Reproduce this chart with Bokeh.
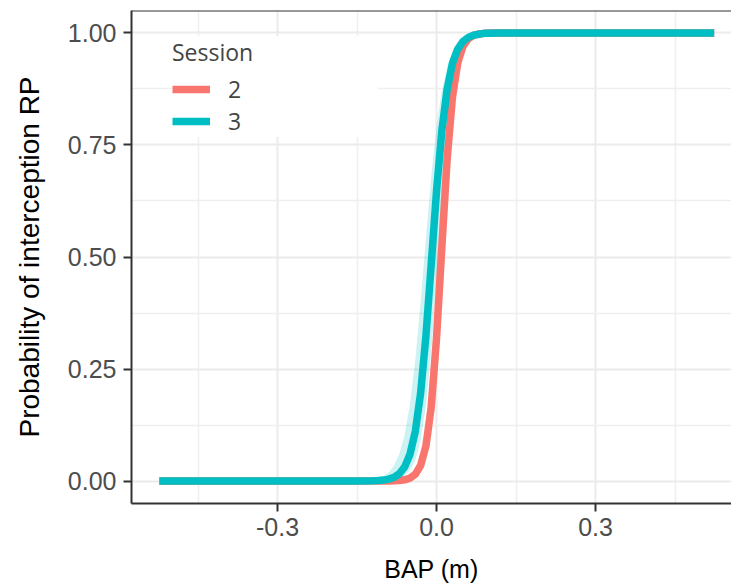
from bokeh.plotting import figure
from bokeh.models import (FixedTicker, NumeralTickFormatter, Legend, LegendItem,
                          Range1d, Span, ColumnDataSource)
from bokeh.embed import file_html
from bokeh.resources import INLINE

# BAP values (m) at which curves were read
bap = [-0.523, -0.20, -0.15, -0.12, -0.11, -0.10, -0.09, -0.08, -0.07, -0.06,
       -0.05, -0.04, -0.03, -0.02, -0.01, 0.00, 0.01, 0.02, 0.03, 0.04,
       0.05, 0.06, 0.07, 0.08, 0.09, 0.10, 0.12, 0.15, 0.20, 0.524]

# Session 2 (fit and confidence band)
s2_fit = [0, 0, 0, 0, 0.0001, 0.0001, 0.0002, 0.0005, 0.0012, 0.0028,
          0.0066, 0.0152, 0.0349, 0.078, 0.165, 0.318, 0.521, 0.718, 0.856, 0.933,
          0.970, 0.987, 0.9944, 0.9976, 0.999, 0.9996, 1.0, 1.0, 1.0, 1.0]
s2_hi = [0, 0, 0, 0, 0.0001, 0.0002, 0.0004, 0.0009, 0.0022, 0.0051,
         0.0119, 0.0274, 0.0618, 0.134, 0.265, 0.458, 0.664, 0.822, 0.915, 0.962,
         0.983, 0.993, 0.997, 0.9987, 0.9995, 0.9998, 1.0, 1.0, 1.0, 1.0]
s2_lo = [0, 0, 0, 0, 0, 0.0001, 0.0001, 0.0003, 0.0007, 0.0016,
         0.0037, 0.0085, 0.0196, 0.0448, 0.099, 0.204, 0.375, 0.584, 0.767, 0.885,
         0.947, 0.977, 0.990, 0.9957, 0.9981, 0.9992, 0.9999, 1.0, 1.0, 1.0]

# Session 3 (fit and confidence band)
s3_fit = [0, 0, 0.0001, 0.0006, 0.0011, 0.0022, 0.0044, 0.0085, 0.0165, 0.0316,
          0.060, 0.111, 0.196, 0.323, 0.483, 0.646, 0.781, 0.874, 0.932, 0.964,
          0.981, 0.990, 0.995, 0.997, 0.999, 0.9993, 0.9998, 1.0, 1.0, 1.0]
s3_hi = [0, 0, 0.0006, 0.0036, 0.0064, 0.0113, 0.0200, 0.0352, 0.0612, 0.104,
         0.172, 0.271, 0.399, 0.542, 0.679, 0.791, 0.871, 0.923, 0.956, 0.975,
         0.986, 0.992, 0.9955, 0.9975, 0.9986, 0.9992, 0.9998, 1.0, 1.0, 1.0]
s3_lo = [0, 0, 0, 0.0002, 0.0004, 0.0007, 0.0015, 0.0030, 0.0060, 0.0120,
         0.0239, 0.0470, 0.0903, 0.167, 0.287, 0.448, 0.620, 0.767, 0.869, 0.930,
         0.964, 0.982, 0.991, 0.9955, 0.9977, 0.9989, 0.9997, 1.0, 1.0, 1.0]

sessions = ["2", "3"]
colors = ["#F8766D", "#00BFC4"]

x_ticks = [-0.3, 0.0, 0.3]
x_minor = [-0.45, -0.15, 0.15, 0.45]
y_ticks = [0.0, 0.25, 0.5, 0.75, 1.0]
y_minor = [0.125, 0.375, 0.625, 0.875]

x_title = "BAP (m)"
y_title = "Probability of interception RP"

SANS = "Liberation Sans"

p = figure(width=731, height=585, output_backend="svg", toolbar_location=None,
           x_range=Range1d(-0.5755, 0.5566), y_range=Range1d(-0.05, 1.05),
           min_border_left=131, min_border_right=0, min_border_top=10,
           min_border_bottom=82)
p.outline_line_color = None
p.background_fill_color = "white"
p.border_fill_color = "white"

src = ColumnDataSource(dict(x=bap, s2f=s2_fit, s2h=s2_hi, s2l=s2_lo,
                            s3f=s3_fit, s3h=s3_hi, s3l=s3_lo))

p.varea(x="x", y1="s2l", y2="s2h", source=src, fill_color=colors[0], fill_alpha=0.14)
p.varea(x="x", y1="s3l", y2="s3h", source=src, fill_color=colors[1], fill_alpha=0.2)
r2 = p.line(x="x", y="s2f", source=src, line_color=colors[0], line_width=7.5,
            line_join="round")
r3 = p.line(x="x", y="s3f", source=src, line_color=colors[1], line_width=7.5,
            line_join="round")

# grid
p.xaxis.ticker = FixedTicker(ticks=x_ticks, minor_ticks=x_minor)
p.yaxis.ticker = FixedTicker(ticks=y_ticks, minor_ticks=y_minor)
p.xaxis.formatter = NumeralTickFormatter(format="0.0")
p.yaxis.formatter = NumeralTickFormatter(format="0.00")
for g in (p.xgrid, p.ygrid):
    g.grid_line_color = "#EBEBEB"
    g.grid_line_width = 2
    g.minor_grid_line_color = "#EFEFEF"
    g.minor_grid_line_width = 1.5

for ax in (p.xaxis, p.yaxis):
    ax.axis_line_color = "#333333"
    ax.axis_line_width = 2
    ax.major_tick_line_color = "#333333"
    ax.major_tick_line_width = 2
    ax.major_tick_out = 8
    ax.major_tick_in = 0
    ax.minor_tick_line_color = None
    ax.major_label_text_font = SANS
    ax.major_label_text_font_size = "25px"
    ax.major_label_text_color = "#4D4D4D"
    ax.axis_label_text_font_style = "normal"
    ax.axis_label_text_color = "black"

p.xaxis.major_label_standoff = 6
p.yaxis.major_label_standoff = 7
p.xaxis.axis_label = x_title
p.xaxis.axis_label_text_font = SANS
p.xaxis.axis_label_text_font_size = "25px"
p.xaxis.axis_label_standoff = 16
p.yaxis.axis_label = y_title
p.yaxis.axis_label_text_font = SANS
p.yaxis.axis_label_text_font_size = "28px"
p.yaxis.axis_label_standoff = 20

p.add_layout(Span(location=1.05, dimension="width", line_color="#333333", line_width=2))

legend = Legend(items=[LegendItem(label=sessions[0], renderers=[r2]),
                       LegendItem(label=sessions[1], renderers=[r3])],
                location=(41, 366), title="Session",
                title_text_font="Open Sans", title_text_font_size="23px",
                title_text_font_style="normal", title_standoff=5,
                label_text_font="Open Sans", label_text_font_size="23px",
                glyph_width=38, glyph_height=32, label_height=32,
                label_standoff=18, label_width=150, spacing=0, padding=10,
                border_line_color=None, background_fill_color="white",
                background_fill_alpha=1.0)
p.add_layout(legend)

open("out.html", "w").write(file_html(p, INLINE))
